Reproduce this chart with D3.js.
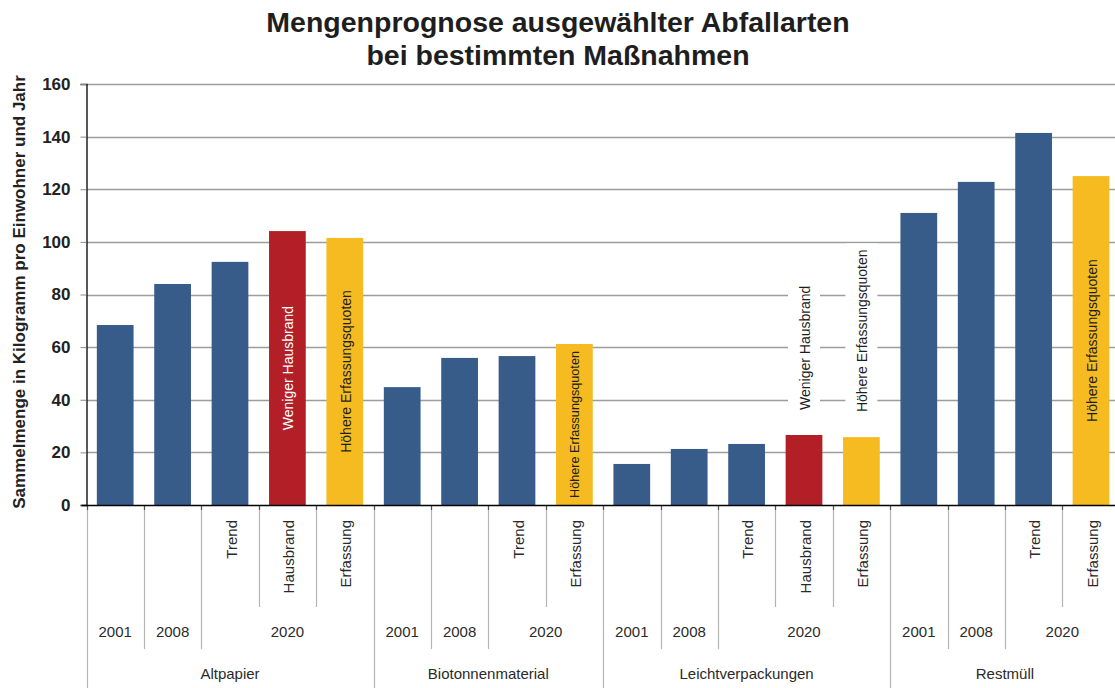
<!DOCTYPE html>
<html>
<head>
<meta charset="utf-8">
<script src="https://cdn.jsdelivr.net/npm/d3@7"></script>
<style>
  html, body { margin: 0; padding: 0; background: #fff; }
  svg { display: block; font-family: "Liberation Sans", Arial, sans-serif; }
</style>
</head>
<body>
<svg id="chart" width="1115" height="688"></svg>
<script>
// Waste streams, one group of bars each
const categories = ["Altpapier", "Biotonnenmaterial", "Leichtverpackungen", "Restmüll"];

// One entry per bar: waste stream, year, scenario and collected amount (kg per inhabitant and year)
const slotCategory = [
  "Altpapier", "Altpapier", "Altpapier", "Altpapier", "Altpapier",
  "Biotonnenmaterial", "Biotonnenmaterial", "Biotonnenmaterial", "Biotonnenmaterial",
  "Leichtverpackungen", "Leichtverpackungen", "Leichtverpackungen", "Leichtverpackungen", "Leichtverpackungen",
  "Restmüll", "Restmüll", "Restmüll", "Restmüll"
];
const slotYear = [
  "2001", "2008", "2020", "2020", "2020",
  "2001", "2008", "2020", "2020",
  "2001", "2008", "2020", "2020", "2020",
  "2001", "2008", "2020", "2020"
];
const slotScenario = [
  "", "", "Trend", "Hausbrand", "Erfassung",
  "", "", "Trend", "Erfassung",
  "", "", "Trend", "Hausbrand", "Erfassung",
  "", "", "Trend", "Erfassung"
];
const slotValue = [
  68.4, 84.0, 92.4, 104.1, 101.5,
  44.8, 55.9, 56.6, 61.2,
  15.6, 21.3, 23.2, 26.6, 25.8,
  111.0, 122.8, 141.4, 125.0
];

// Measure descriptions written on the scenario bars
const scenarioLabel = { Hausbrand: "Weniger Hausbrand", Erfassung: "Höhere Erfassungsquoten" };

// Y axis ticks
const yTicks = [0, 20, 40, 60, 80, 100, 120, 140, 160];

const titleLines = ["Mengenprognose ausgewählter Abfallarten", "bei bestimmten Maßnahmen"];
const yTitle = "Sammelmenge in Kilogramm pro Einwohner und Jahr";

const colors = { base: "#375C8A", Hausbrand: "#B31F27", Erfassung: "#F5BB20" };

const svg = d3.select("#chart");
const W = 1115, H = 688;
const plotLeft = 86.5, plotTop = 84, baseY = 505;
const step = 57.4;
const n = slotValue.length;

const x = d3.scaleBand()
  .domain(d3.range(n))
  .range([plotLeft, plotLeft + step * n])
  .paddingInner(0.36)
  .paddingOuter(0.18);

const y = d3.scaleLinear().domain([0, 160]).range([baseY, plotTop]);

// Title
svg.append("g").selectAll("text")
  .data(titleLines)
  .join("text")
  .attr("x", 558)
  .attr("y", (d, i) => 32 + i * 33)
  .attr("text-anchor", "middle")
  .attr("font-size", 28.5)
  .attr("font-weight", "bold")
  .attr("fill", "#1e1e1e")
  .text(d => d);

// Gridlines
svg.append("g").selectAll("line")
  .data(yTicks.filter(t => t > 0))
  .join("line")
  .attr("x1", plotLeft).attr("x2", W)
  .attr("y1", d => Math.round(y(d)) + 0.5).attr("y2", d => Math.round(y(d)) + 0.5)
  .attr("stroke", "#9d9d9d")
  .attr("stroke-width", 1.6);

// Y axis with ticks on the left
const yAxis = d3.axisLeft(y).tickValues(yTicks).tickSize(6).tickPadding(10);
const gy = svg.append("g").attr("transform", `translate(${plotLeft},0)`).call(yAxis);
gy.select(".domain").attr("stroke", "#000").attr("stroke-width", 1.3);
gy.selectAll(".tick line").attr("stroke", "#8a8a8a");
gy.selectAll(".tick text")
  .attr("font-family", "Liberation Sans, Arial, sans-serif")
  .attr("font-size", 17)
  .attr("font-weight", "bold")
  .attr("fill", "#222");

// Y axis title
svg.append("text")
  .attr("transform", `translate(25, 292) rotate(-90)`)
  .attr("text-anchor", "middle")
  .attr("font-size", 17)
  .attr("font-weight", "bold")
  .attr("fill", "#222")
  .text(yTitle);

// Bars
const bars = svg.append("g");
bars.selectAll("rect")
  .data(d3.range(n))
  .join("rect")
  .attr("x", i => x(i))
  .attr("width", x.bandwidth())
  .attr("y", i => y(slotValue[i]))
  .attr("height", i => baseY - y(slotValue[i]))
  .attr("fill", i => colors[slotScenario[i]] || colors.base);

// Measure labels: inside the bar where it is tall enough, otherwise above it on a white box
const labelG = svg.append("g");
d3.range(n).filter(i => scenarioLabel[slotScenario[i]]).forEach(i => {
  const cx = x(i) + x.bandwidth() / 2;
  const barTop = y(slotValue[i]);
  const barH = baseY - barTop;
  const g = labelG.append("g");
  const t = g.append("text")
    .attr("text-anchor", "middle")
    .attr("dominant-baseline", "central")
    .attr("font-size", 14)
    .text(scenarioLabel[slotScenario[i]]);
  const len = t.node().getComputedTextLength();
  const onRed = slotScenario[i] === "Hausbrand";
  if (barH > len + 20) {
    t.attr("transform", `translate(${cx + 1}, ${barTop + barH / 2}) rotate(-90)`)
      .attr("fill", onRed ? "#fff" : "#1e1e1e");
  } else if (barH > 0.85 * len) {
    const fs = 14 * (barH - 14) / len;
    t.attr("font-size", fs)
      .attr("transform", `translate(${cx + 1}, ${barTop + barH / 2}) rotate(-90)`)
      .attr("fill", "#1e1e1e");
  } else {
    const bottom = barTop - 25;
    g.insert("rect", "text")
      .attr("x", cx - 16)
      .attr("width", 32)
      .attr("y", bottom - len - 6)
      .attr("height", len + 12)
      .attr("fill", "#fff");
    t.attr("transform", `translate(${cx + 1}, ${bottom - len / 2}) rotate(-90)`)
      .attr("fill", "#1e1e1e");
  }
});

// Category axis: separators of three tiers
const tier1 = 607, tier2 = 649;
const boundaries = d3.range(n + 1).map(i => {
  let end;
  if (i === 0 || i === n || slotCategory[i] !== slotCategory[i - 1]) end = H;
  else if (slotYear[i] !== slotYear[i - 1]) end = tier2;
  else end = tier1;
  return { x: Math.round(plotLeft + step * i) + 0.5, end };
});
const axisG = svg.append("g");
axisG.selectAll("line.sep")
  .data(boundaries)
  .join("line")
  .attr("class", "sep")
  .attr("x1", d => d.x).attr("x2", d => d.x)
  .attr("y1", baseY).attr("y2", d => d.end)
  .attr("stroke", "#b4b4b4")
  .attr("stroke-width", 1.2);
axisG.selectAll("line.tk")
  .data(boundaries)
  .join("line")
  .attr("class", "tk")
  .attr("x1", d => d.x).attr("x2", d => d.x)
  .attr("y1", baseY).attr("y2", baseY + 5)
  .attr("stroke", "#555")
  .attr("stroke-width", 1.2);

// Baseline
svg.append("line")
  .attr("x1", plotLeft - 5).attr("x2", W)
  .attr("y1", baseY + 0.5).attr("y2", baseY + 0.5)
  .attr("stroke", "#000")
  .attr("stroke-width", 1.4);

const labelColor = "#2a2a2a";

// Scenario labels (rotated)
axisG.selectAll("text.scen")
  .data(d3.range(n).filter(i => slotScenario[i]))
  .join("text")
  .attr("class", "scen")
  .attr("transform", i => `translate(${x(i) + x.bandwidth() / 2 + 1}, 520) rotate(-90)`)
  .attr("text-anchor", "end")
  .attr("dominant-baseline", "central")
  .attr("font-size", 15)
  .attr("fill", labelColor)
  .text(i => slotScenario[i]);

// Year labels, centred over consecutive slots of the same year
const yearGroups = [];
d3.range(n).forEach(i => {
  const last = yearGroups[yearGroups.length - 1];
  if (last && slotCategory[last.start] === slotCategory[i] && slotYear[last.start] === slotYear[i]) last.end = i;
  else yearGroups.push({ start: i, end: i, label: slotYear[i] });
});
axisG.selectAll("text.year")
  .data(yearGroups)
  .join("text")
  .attr("class", "year")
  .attr("x", d => plotLeft + step * (d.start + d.end + 1) / 2)
  .attr("y", 637)
  .attr("text-anchor", "middle")
  .attr("font-size", 15)
  .attr("fill", labelColor)
  .text(d => d.label);

// Waste stream labels
axisG.selectAll("text.cat")
  .data(categories)
  .join("text")
  .attr("class", "cat")
  .attr("x", c => {
    const idx = d3.range(n).filter(i => slotCategory[i] === c);
    return plotLeft + step * (idx[0] + idx[idx.length - 1] + 1) / 2;
  })
  .attr("y", 679)
  .attr("text-anchor", "middle")
  .attr("font-size", 15)
  .attr("fill", labelColor)
  .text(c => c);
</script>
</body>
</html>
